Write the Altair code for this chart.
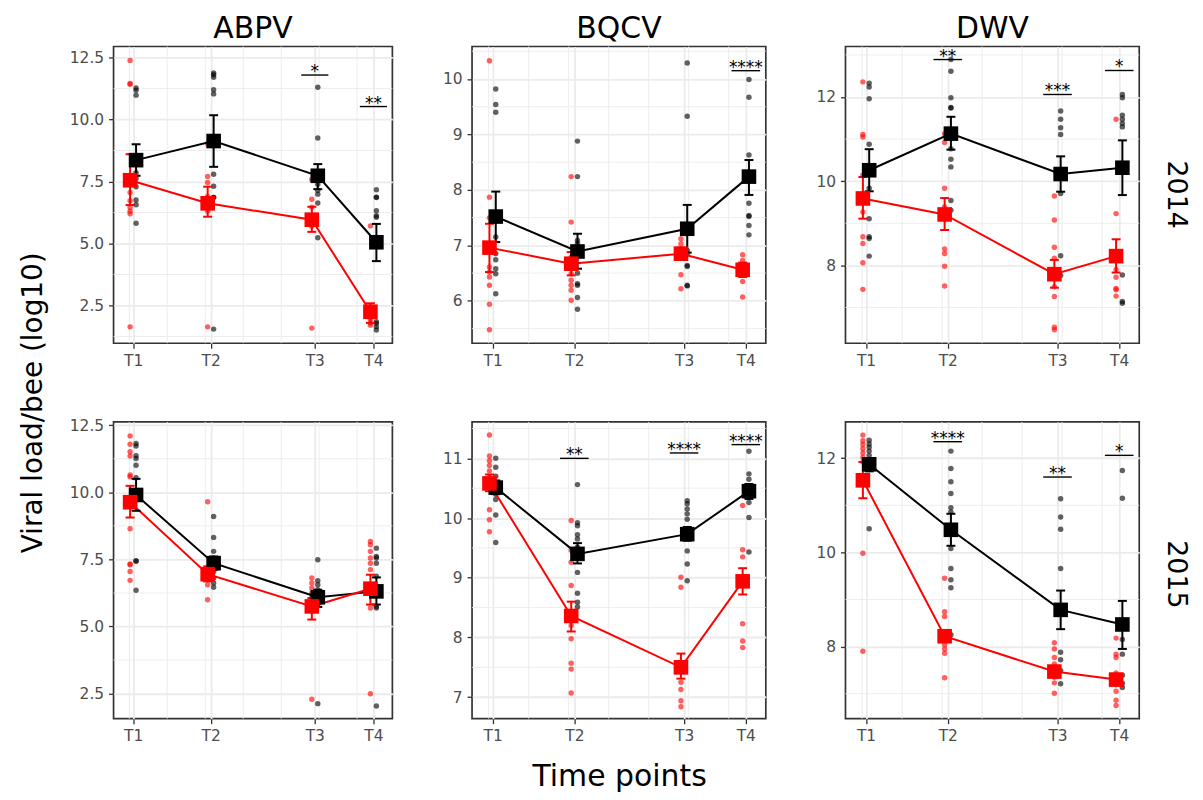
import altair as alt
import pandas as pd

VIRUSES = ["ABPV", "BQCV", "DWV"]
YEARS = ["2014", "2015"]
TIMES = ["T1", "T2", "T3", "T4"]
DAYS = [0.0, 14.3, 33.5, 44.3]
WEEK_LINES = [-0.7, 6.3, 13.3, 20.3, 27.3, 34.3, 41.3]
X_LIMITS = [-3.6, 47.8]
GROUPS = ["control", "treated"]
GROUP_COLORS = ["#000000", "#ff0000"]

# ---------------- ABPV 2014 ----------------
ABPV14_CONTROL = [
    [11.27, 11.18, 10.98, 8.45, 8.2, 7.85, 7.62, 7.29, 6.75, 6.56, 5.82],
    [11.87, 11.80, 11.70, 11.20, 11.03, 7.79, 7.31, 6.86, 6.86, 1.55],
    [11.30, 9.25, 7.6, 7.39, 7.15, 6.99, 6.63, 5.23],
    [7.17, 6.87, 6.85, 6.32, 6.12, 6.06, 1.85, 1.78, 1.64, 1.51],
]
ABPV14_TREATED = [
    [12.38, 11.45, 11.42, 7.5, 7.06, 6.72, 6.45, 6.3, 6.2, 1.64],
    [9.02, 7.70, 7.46, 6.9, 6.6, 6.3, 1.64],
    [7.58, 6.78, 6.46, 6.0, 5.7, 1.59],
    [5.71, 2.45, 2.3, 2.1, 1.95, 1.8, 1.71],
]
ABPV14_CONTROL_MEAN = [8.36, 9.13, 7.73, 5.05]
ABPV14_CONTROL_LO = [7.73, 8.09, 7.19, 4.29]
ABPV14_CONTROL_HI = [9.00, 10.17, 8.20, 5.79]
ABPV14_TREATED_MEAN = [7.55, 6.62, 5.96, 2.25]
ABPV14_TREATED_LO = [6.55, 6.08, 5.47, 1.80]
ABPV14_TREATED_HI = [8.60, 7.29, 6.48, 2.59]
ABPV14_YLIM = [0.98, 12.94]
ABPV14_YTICKS = [2.5, 5.0, 7.5, 10.0, 12.5]

# ---------------- BQCV 2014 ----------------
BQCV14_CONTROL = [
    [9.82, 9.54, 9.40, 7.15, 6.85, 6.74, 6.58, 6.49, 6.13],
    [8.88, 8.24, 7.09, 7.03, 6.5, 6.31, 6.28, 6.06, 5.85],
    [10.29, 9.33, 6.91, 6.85, 6.64, 6.62, 6.28, 6.27],
    [9.99, 9.67, 8.63, 7.76, 7.54, 7.52, 7.36, 7.19],
]
BQCV14_TREATED = [
    [10.33, 7.87, 7.5, 6.94, 6.61, 6.52, 6.43, 6.28, 5.94, 5.48],
    [8.24, 7.42, 6.79, 6.49, 6.37, 6.28, 6.19, 6.01],
    [7.12, 7.03, 6.94, 6.79, 6.47, 6.22],
    [6.83, 6.73, 6.49, 6.35, 6.07],
]
BQCV14_CONTROL_MEAN = [7.52, 6.89, 7.30, 8.24]
BQCV14_CONTROL_LO = [7.06, 6.58, 6.87, 7.91]
BQCV14_CONTROL_HI = [7.97, 7.21, 7.73, 8.54]
BQCV14_TREATED_MEAN = [6.96, 6.67, 6.85, 6.56]
BQCV14_TREATED_LO = [6.52, 6.46, 6.74, 6.43]
BQCV14_TREATED_HI = [7.39, 6.88, 6.96, 6.69]
BQCV14_YLIM = [5.236, 10.586]
BQCV14_YTICKS = [6, 7, 8, 9, 10]

# ---------------- DWV 2014 ----------------
DWV14_CONTROL = [
    [12.33, 12.24, 11.96, 10.88, 10.3, 9.83, 9.11, 8.68, 8.64, 8.22],
    [12.89, 12.61, 11.98, 11.75, 11.74, 10.77, 10.52, 10.34, 9.54, 9.31],
    [11.67, 11.47, 11.27, 11.11, 9.71, 8.23, 7.76],
    [12.06, 11.98, 11.57, 11.47, 11.37, 11.29, 7.77, 7.14, 7.10],
]
DWV14_TREATED = [
    [12.36, 11.11, 11.05, 10.15, 9.59, 9.27, 8.68, 8.52, 8.06, 7.43],
    [11.13, 10.92, 9.83, 9.39, 8.39, 8.28, 7.98, 7.51],
    [9.65, 9.08, 8.43, 8.17, 7.49, 7.26, 6.53, 6.47],
    [11.47, 9.23, 7.9, 7.72, 7.45, 7.42, 7.27],
]
DWV14_CONTROL_MEAN = [10.26, 11.13, 10.17, 10.32]
DWV14_CONTROL_LO = [9.76, 10.75, 9.75, 9.67]
DWV14_CONTROL_HI = [10.76, 11.53, 10.59, 10.97]
DWV14_TREATED_MEAN = [9.59, 9.21, 7.79, 8.22]
DWV14_TREATED_LO = [9.11, 8.84, 7.47, 7.83]
DWV14_TREATED_HI = [10.10, 9.60, 8.13, 8.62]
DWV14_YLIM = [6.15, 13.20]
DWV14_YTICKS = [8, 10, 12]

# ---------------- ABPV 2015 ----------------
ABPV15_CONTROL = [
    [11.82, 11.72, 11.36, 11.26, 11.01, 10.54, 7.45, 7.43, 6.35],
    [9.10, 8.32, 7.80, 7.55, 7.3, 7.05, 6.81, 6.62, 6.46],
    [7.49, 6.71, 6.56, 6.37, 6.19, 6.06, 5.82, 2.13],
    [7.92, 7.61, 7.55, 7.36, 6.87, 5.75, 5.69, 2.04],
]
ABPV15_TREATED = [
    [12.10, 11.79, 11.51, 11.35, 10.64, 10.58, 8.64, 7.33, 7.30, 7.05, 6.72],
    [9.65, 7.05, 6.9, 6.75, 6.56, 6.0],
    [6.81, 6.62, 6.44, 6.25, 6.09, 5.90, 2.29],
    [8.17, 8.05, 7.80, 7.55, 7.36, 7.12, 5.69, 2.50],
]
ABPV15_CONTROL_MEAN = [9.90, 7.36, 6.09, 6.31]
ABPV15_CONTROL_LO = [9.31, 7.12, 5.73, 5.82]
ABPV15_CONTROL_HI = [10.50, 7.61, 6.37, 6.83]
ABPV15_TREATED_MEAN = [9.63, 6.95, 5.75, 6.41]
ABPV15_TREATED_LO = [9.06, 6.68, 5.26, 5.82]
ABPV15_TREATED_HI = [10.24, 7.24, 6.06, 6.93]
ABPV15_YLIM = [1.57, 12.62]
ABPV15_YTICKS = [2.5, 5.0, 7.5, 10.0, 12.5]

# ---------------- BQCV 2015 ----------------
BQCV15_CONTROL = [
    [11.0, 10.85, 10.70, 10.46, 10.40, 10.31, 10.05, 9.59],
    [10.56, 9.92, 9.87, 9.72, 9.65, 9.51, 9.09, 8.74, 8.59, 8.51],
    [10.29, 10.24, 10.15, 10.07, 9.98, 9.71, 9.45, 9.23, 8.95],
    [11.12, 10.74, 10.65, 10.54, 10.35, 10.26, 10.01, 9.43],
]
BQCV15_TREATED = [
    [11.39, 11.04, 10.96, 10.88, 10.79, 10.68, 10.14, 9.97, 9.77],
    [9.96, 9.46, 9.26, 8.87, 8.2, 7.98, 7.57, 7.47, 7.07],
    [9.01, 8.84, 7.25, 7.13, 6.94, 6.84],
    [10.21, 9.47, 9.35, 8.23, 7.94, 7.83],
]
BQCV15_CONTROL_MEAN = [10.51, 9.40, 9.73, 10.45]
BQCV15_CONTROL_LO = [10.40, 9.24, 9.62, 10.32]
BQCV15_CONTROL_HI = [10.63, 9.58, 9.85, 10.57]
BQCV15_TREATED_MEAN = [10.58, 8.36, 7.50, 8.94]
BQCV15_TREATED_LO = [10.45, 8.10, 7.31, 8.72]
BQCV15_TREATED_HI = [10.73, 8.60, 7.73, 9.16]
BQCV15_YLIM = [6.64, 11.61]
BQCV15_YTICKS = [7, 8, 9, 10, 11]

# ---------------- DWV 2015 ----------------
DWV15_CONTROL = [
    [12.38, 12.30, 12.23, 12.15, 12.06, 11.97, 11.83, 11.76, 10.50],
    [12.15, 11.78, 11.50, 11.25, 10.95, 10.86, 10.08, 9.66, 9.42, 9.25, 8.25],
    [11.14, 10.75, 10.49, 9.66, 7.88, 7.72, 7.49, 7.21],
    [11.74, 11.15, 8.15, 7.84, 7.39, 7.22, 7.13],
]
DWV15_TREATED = [
    [12.49, 12.37, 12.29, 12.20, 12.11, 12.02, 11.92, 9.98, 7.90],
    [9.45, 8.74, 8.64, 8.2, 8.04, 7.95, 7.86, 7.34],
    [8.08, 7.95, 7.77, 7.63, 7.49, 7.35, 7.23, 7.01],
    [8.18, 7.84, 7.77, 7.44, 7.32, 7.19, 7.05, 6.86, 6.75],
]
DWV15_CONTROL_MEAN = [11.87, 10.48, 8.78, 8.47]
DWV15_CONTROL_LO = [11.72, 10.14, 8.37, 7.95]
DWV15_CONTROL_HI = [11.97, 10.82, 9.19, 8.97]
DWV15_TREATED_MEAN = [11.53, 8.22, 7.47, 7.30]
DWV15_TREATED_LO = [11.15, 8.10, 7.37, 7.20]
DWV15_TREATED_HI = [11.92, 8.34, 7.57, 7.40]
DWV15_YLIM = [6.47, 12.77]
DWV15_YTICKS = [8, 10, 12]

# significance brackets: (virus, year, time point, label, y)
SIGNIF = [
    ("ABPV", "2014", "T3", "*", 11.79),
    ("ABPV", "2014", "T4", "**", 10.52),
    ("BQCV", "2014", "T4", "****", 10.15),
    ("DWV", "2014", "T2", "**", 12.89),
    ("DWV", "2014", "T3", "***", 12.06),
    ("DWV", "2014", "T4", "*", 12.63),
    ("BQCV", "2015", "T2", "**", 11.00),
    ("BQCV", "2015", "T3", "****", 11.09),
    ("BQCV", "2015", "T4", "****", 11.23),
    ("DWV", "2015", "T2", "****", 12.35),
    ("DWV", "2015", "T3", "**", 11.60),
    ("DWV", "2015", "T4", "*", 12.06),
]

PANELS = {
    ("ABPV", "2014"): dict(pts=[ABPV14_CONTROL, ABPV14_TREATED],
                           mean=[ABPV14_CONTROL_MEAN, ABPV14_TREATED_MEAN],
                           lo=[ABPV14_CONTROL_LO, ABPV14_TREATED_LO],
                           hi=[ABPV14_CONTROL_HI, ABPV14_TREATED_HI],
                           ylim=ABPV14_YLIM, ticks=ABPV14_YTICKS, fmt=".1f"),
    ("BQCV", "2014"): dict(pts=[BQCV14_CONTROL, BQCV14_TREATED],
                           mean=[BQCV14_CONTROL_MEAN, BQCV14_TREATED_MEAN],
                           lo=[BQCV14_CONTROL_LO, BQCV14_TREATED_LO],
                           hi=[BQCV14_CONTROL_HI, BQCV14_TREATED_HI],
                           ylim=BQCV14_YLIM, ticks=BQCV14_YTICKS, fmt="d"),
    ("DWV", "2014"): dict(pts=[DWV14_CONTROL, DWV14_TREATED],
                          mean=[DWV14_CONTROL_MEAN, DWV14_TREATED_MEAN],
                          lo=[DWV14_CONTROL_LO, DWV14_TREATED_LO],
                          hi=[DWV14_CONTROL_HI, DWV14_TREATED_HI],
                          ylim=DWV14_YLIM, ticks=DWV14_YTICKS, fmt="d"),
    ("ABPV", "2015"): dict(pts=[ABPV15_CONTROL, ABPV15_TREATED],
                           mean=[ABPV15_CONTROL_MEAN, ABPV15_TREATED_MEAN],
                           lo=[ABPV15_CONTROL_LO, ABPV15_TREATED_LO],
                           hi=[ABPV15_CONTROL_HI, ABPV15_TREATED_HI],
                           ylim=ABPV15_YLIM, ticks=ABPV15_YTICKS, fmt=".1f"),
    ("BQCV", "2015"): dict(pts=[BQCV15_CONTROL, BQCV15_TREATED],
                           mean=[BQCV15_CONTROL_MEAN, BQCV15_TREATED_MEAN],
                           lo=[BQCV15_CONTROL_LO, BQCV15_TREATED_LO],
                           hi=[BQCV15_CONTROL_HI, BQCV15_TREATED_HI],
                           ylim=BQCV15_YLIM, ticks=BQCV15_YTICKS, fmt="d"),
    ("DWV", "2015"): dict(pts=[DWV15_CONTROL, DWV15_TREATED],
                          mean=[DWV15_CONTROL_MEAN, DWV15_TREATED_MEAN],
                          lo=[DWV15_CONTROL_LO, DWV15_TREATED_LO],
                          hi=[DWV15_CONTROL_HI, DWV15_TREATED_HI],
                          ylim=DWV15_YLIM, ticks=DWV15_YTICKS, fmt="d"),
}

PANEL_WIDTHS = {"ABPV": 280, "BQCV": 295, "DWV": 295}
PANEL_HEIGHT = 298
DODGE = 0.55
BRACKET_HALF = 2.5
ROW_LABEL_SHIFT = {"2014": 2, "2015": -8}

LABEL_EXPR = " : ".join(
    f"abs(datum.value - {d}) < 0.01 ? '{t}'" for d, t in zip(DAYS, TIMES)
) + " : ''"

COLOR = alt.Color("group:N", scale=alt.Scale(domain=GROUPS, range=GROUP_COLORS), legend=None)
DODGE_EXPR = f"datum.day + (datum.group === '{GROUPS[0]}' ? {DODGE} : {-DODGE})"


def panel(virus, year, with_title):
    p = PANELS[(virus, year)]
    xs = alt.Scale(domain=X_LIMITS, nice=False, zero=False)
    xa = alt.Axis(values=DAYS, labelExpr=LABEL_EXPR, title=None, grid=True)
    ys = alt.Scale(domain=p["ylim"], nice=False, zero=False)
    ya = alt.Axis(values=p["ticks"], format=p["fmt"], title=None, grid=True)

    def X(f):
        return alt.X(f"{f}:Q", scale=xs, axis=xa)

    def Y(f):
        return alt.Y(f"{f}:Q", scale=ys, axis=ya)

    pts_rows, mean_rows = [], []
    for gi, g in enumerate(GROUPS):
        for ti, d in enumerate(DAYS):
            for v in p["pts"][gi][ti]:
                pts_rows.append({"group": g, "day": d, "value": v})
            mean_rows.append({"group": g, "day": d, "mean": p["mean"][gi][ti],
                              "lo": p["lo"][gi][ti], "hi": p["hi"][gi][ti]})
    pts_df = pd.DataFrame(pts_rows)
    mean_df = pd.DataFrame(mean_rows)

    ticks = p["ticks"]
    step = ticks[1] - ticks[0]
    minor = [ticks[0] - step / 2] + [t + step / 2 for t in ticks]
    minor = [m for m in minor if p["ylim"][0] < m < p["ylim"][1]]

    week_df = pd.DataFrame({"day": WEEK_LINES})
    minor_df = pd.DataFrame({"yv": minor})

    sig = [s for s in SIGNIF if s[0] == virus and s[1] == year]
    sig_df = pd.DataFrame({"day": [DAYS[TIMES.index(s[2])] for s in sig],
                           "label": [s[3] for s in sig],
                           "y": [s[4] for s in sig]})

    week = alt.Chart(week_df).mark_rule(color="#ebebeb", strokeWidth=0.9).encode(x=X("day"))
    hminor = alt.Chart(minor_df).mark_rule(color="#ebebeb", strokeWidth=0.9).encode(y=Y("yv"))

    points = alt.Chart(pts_df).transform_calculate(xpos=DODGE_EXPR).mark_circle(
        size=30, opacity=0.62).encode(x=X("xpos"), y=Y("value"), color=COLOR)

    mbase = alt.Chart(mean_df).transform_calculate(xpos=DODGE_EXPR)
    lines = mbase.mark_line(strokeWidth=2).encode(x=X("xpos"), y=Y("mean"), color=COLOR)
    ebar = mbase.mark_rule(strokeWidth=2).encode(x=X("xpos"), y=Y("lo"), y2="hi", color=COLOR)
    cap_lo = mbase.mark_tick(orient="horizontal", size=9, thickness=2, opacity=1).encode(
        x=X("xpos"), y=Y("lo"), color=COLOR)
    cap_hi = mbase.mark_tick(orient="horizontal", size=9, thickness=2, opacity=1).encode(
        x=X("xpos"), y=Y("hi"), color=COLOR)
    squares = mbase.mark_point(shape="square", filled=True, size=215, opacity=1).encode(
        x=X("xpos"), y=Y("mean"), color=COLOR)

    layers = [week, hminor, points, lines, ebar, cap_lo, cap_hi, squares]
    if len(sig_df):
        sbase = alt.Chart(sig_df).transform_calculate(
            x1=f"datum.day - {BRACKET_HALF}", x2=f"datum.day + {BRACKET_HALF}")
        brackets = sbase.mark_rule(color="black", strokeWidth=1.4).encode(
            x=X("x1"), x2="x2", y=Y("y"))
        stars = sbase.mark_text(font="DejaVu Sans", fontSize=17, baseline="alphabetic",
                                dy=2, color="black").encode(x=X("day"), y=Y("y"), text="label:N")
        layers += [brackets, stars]

    props = dict(width=PANEL_WIDTHS[virus], height=PANEL_HEIGHT)
    if with_title:
        props["title"] = alt.TitleParams(virus, fontSize=30, anchor="middle",
                                         frame="group", offset=2)
    return alt.layer(*layers).properties(**props)


rows = []
for ri, year in enumerate(YEARS):
    row = alt.hconcat(*[panel(v, year, ri == 0) for v in VIRUSES], spacing=31).properties(
        title=alt.TitleParams(year, orient="right", fontSize=27, anchor="middle",
                              offset=22, dx=ROW_LABEL_SHIFT[year]))
    rows.append(row)

grid = alt.vconcat(*rows, spacing=45).properties(
    title=alt.TitleParams("Time points", orient="bottom", fontSize=30, anchor="middle",
                          offset=15, dx=-9))

chart = alt.hconcat(grid).properties(
    title=alt.TitleParams("Viral load/bee (log10)", orient="left", fontSize=28,
                          anchor="middle", offset=19),
    padding={"left": 12, "top": 3, "right": 4, "bottom": 2},
).configure_view(
    stroke="#333333", strokeWidth=1.7
).configure_axis(
    labelFont="DejaVu Sans", labelFontSize=15.5, labelColor="#4d4d4d",
    tickColor="#333333", tickWidth=1.3, tickSize=5, labelPadding=5,
    domain=False, gridColor="#ebebeb", gridWidth=1.8,
).configure_axisY(minExtent=46).configure_axisX(minExtent=28).configure_title(
    font="DejaVu Sans", fontWeight="normal", color="black"
)

chart.save("out.html", embed_options={"renderer": "svg", "actions": False})
